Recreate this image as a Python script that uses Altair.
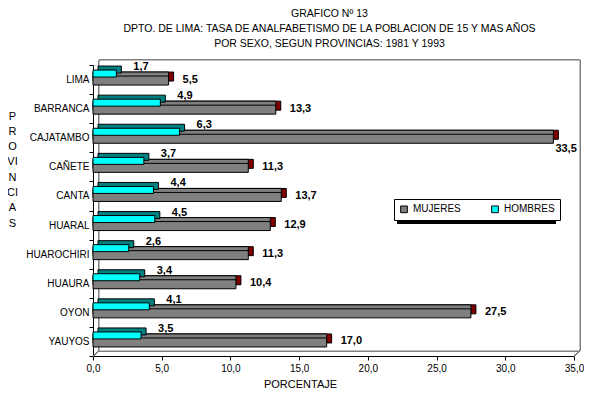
import altair as alt
import pandas as pd

provincias = ["LIMA", "BARRANCA", "CAJATAMBO", "CAÑETE", "CANTA",
              "HUARAL", "HUAROCHIRI", "HUAURA", "OYON", "YAUYOS"]
mujeres = [5.5, 13.3, 33.5, 11.3, 13.7, 12.9, 11.3, 10.4, 27.5, 17.0]
hombres = [1.7, 4.9, 6.3, 3.7, 4.4, 4.5, 2.6, 3.4, 4.1, 3.5]
x_ticks = [0, 5, 10, 15, 20, 25, 30, 35]
titulo = ["GRAFICO Nº 13",
          "DPTO. DE LIMA: TASA DE ANALFABETISMO DE LA POBLACION DE 15 Y MAS AÑOS",
          "POR SEXO, SEGUN PROVINCIAS: 1981 Y 1993"]

def fmt(v):
    return f"{v:.1f}".replace(".", ",")

dm = pd.DataFrame({"prov": provincias, "val": mujeres, "sexo": "MUJERES",
                   "lab": [fmt(v) for v in mujeres]})
dh = pd.DataFrame({"prov": provincias, "val": hombres, "sexo": "HOMBRES",
                   "lab": [fmt(v) for v in hombres]})

FONT = "Liberation Sans"
W, H = 481, 291

xs = alt.X("val:Q", scale=alt.Scale(domain=[0, 35], nice=False),
           axis=alt.Axis(values=x_ticks, labelExpr="replace(format(datum.value, '.1f'), '.', ',')",
                         labelFlush=False,
                         title="PORCENTAJE", titleX=207, titleY=28, titleAnchor="start",
                         titleAlign="center", titleBaseline="middle",
                         titleFontWeight="normal",
                         grid=False, tickSize=4, domainColor="black", tickColor="black",
                         labelPadding=3))
ys = alt.Y("prov:N", sort=provincias,
           scale=alt.Scale(paddingInner=0, paddingOuter=0),
           axis=alt.Axis(title=["P", "R", "O", "VI", "N", "CI", "A", "S"],
                         titleAngle=0, titleX=-81, titleY=45, titleAlign="center",
                         titleBaseline="top", titleLineHeight=15.3,
                         titleFontWeight="normal", tickBand="extent",
                         tickSize=4, domainColor="black", tickColor="black",
                         labelPadding=0))

color = alt.Color("sexo:N",
                  scale=alt.Scale(domain=["MUJERES", "HOMBRES"], range=["#808080", "#00FFFF"]),
                  legend=alt.Legend(title=None, orient="none", legendX=301, legendY=134,
                                    direction="horizontal", symbolType="square",
                                    symbolSize=45, symbolStrokeColor="black",
                                    symbolStrokeWidth=1, strokeColor="black",
                                    fillColor="white", padding=5, columnPadding=28,
                                    labelFontSize=10, labelFont=FONT,
                                    labelColor="black", labelOffset=4))

HB, MB = 7, 9
H_OFF, M_OFF = -6, 1
# mujeres 3D
m_side = alt.Chart(dm).mark_bar(height=MB, yOffset=M_OFF - 4, xOffset=5, x2Offset=5,
                                color="#800000", stroke="black", strokeWidth=1).encode(x=xs, y=ys)
m_top = alt.Chart(dm).mark_bar(height=MB, yOffset=M_OFF - 4, color="#808080",
                               stroke="black", strokeWidth=1).encode(x=xs, y=ys)
m_front = alt.Chart(dm).mark_bar(height=MB, yOffset=M_OFF, stroke="black",
                                 strokeWidth=1).encode(x=xs, y=ys, color=color)
# hombres 3D
h_back = alt.Chart(dh).mark_bar(height=HB, yOffset=H_OFF - 4, xOffset=5, x2Offset=5,
                                color="#008080", stroke="black", strokeWidth=1).encode(x=xs, y=ys)
h_front = alt.Chart(dh).mark_bar(height=HB, yOffset=H_OFF, stroke="black",
                                 strokeWidth=1).encode(x=xs, y=ys, color=color)

lab_style = dict(font=FONT, fontSize=11, fontWeight="bold", color="black",
                 align="left", baseline="middle")
h_lab = alt.Chart(dh).mark_text(dx=17, dy=-12.5, **lab_style).encode(x=xs, y=ys, text="lab:N")
m_lab = alt.Chart(dm).transform_filter("datum.val < 30").mark_text(
    dx=14, dy=0, **lab_style).encode(x=xs, y=ys, text="lab:N")
m_lab_big = alt.Chart(dm).transform_filter("datum.val >= 30").mark_text(
    dx=2, dy=11, **lab_style).encode(x=xs, y=ys, text="lab:N")

# back wall (decorative frame) and legend shadow
wall = alt.Chart(dm).mark_rect(fill="white", stroke="#808080", strokeWidth=1).encode(
    x=alt.value(6), x2=alt.value(W + 6), y=alt.value(-5), y2=alt.value(H - 5))
floor_l = alt.Chart(dm).mark_rule(color="#808080").encode(
    x=alt.value(0), x2=alt.value(6), y=alt.value(H), y2=alt.value(H - 5))
floor_r = alt.Chart(dm).mark_rule(color="#808080").encode(
    x=alt.value(W), x2=alt.value(W + 6), y=alt.value(H), y2=alt.value(H - 5))
shadow = alt.Chart(dm).mark_rect(fill="black").encode(
    x=alt.value(304), x2=alt.value(463), y=alt.value(137), y2=alt.value(159))

chart = alt.layer(wall, floor_l, floor_r, shadow, m_side, m_top, m_front, h_back, h_front,
                  h_lab, m_lab, m_lab_big).properties(
    width=W, height=H,
    title=alt.TitleParams(text=titulo, anchor="middle", fontSize=10.5, font=FONT,
                          fontWeight="normal", color="black", lineHeight=15.3, offset=9.5,
                          dx=-4),
    autosize=alt.AutoSizeParams(type="none"),
    padding={"left": 85, "top": 57, "right": 10, "bottom": 40},
).configure_view(stroke=None).configure_axis(
    labelFont=FONT, labelFontSize=11, labelColor="black", titleFont=FONT,
    titleFontSize=11, titleColor="black", titleFontWeight="normal"
).configure(background="white")

chart.save("out.html", embed_options={"renderer": "svg", "actions": False})
